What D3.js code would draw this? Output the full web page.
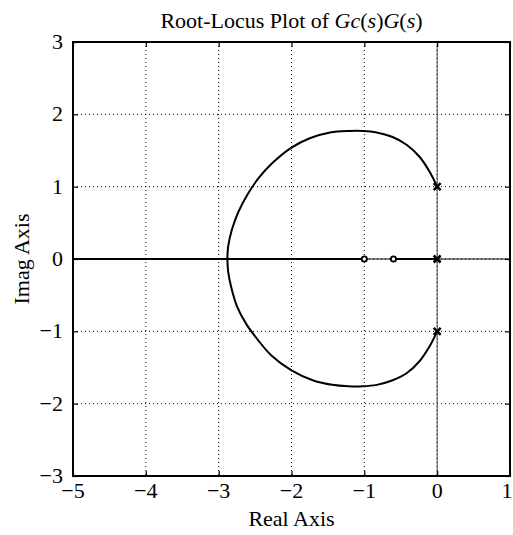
<!DOCTYPE html>
<html><head><meta charset="utf-8">
<script src="https://cdn.jsdelivr.net/npm/d3@7"></script>
<style>body{margin:0;background:#fff}</style>
</head><body>
<svg id="c" width="513" height="535"></svg>
<script>
const xTicks = [-5,-4,-3,-2,-1,0,1];
const yTicks = [-3,-2,-1,0,1,2,3];
// upper complex branch, from pole at +j to break-in point
const upperBranch = [[0,1],[-0.10,1.20],[-0.24,1.41],[-0.42,1.58],[-0.62,1.69],[-0.83,1.75],[-1.02,1.77],[-1.20,1.77],[-1.47,1.75],[-1.75,1.67],[-2.00,1.54],[-2.27,1.32],[-2.45,1.12],[-2.60,0.90],[-2.73,0.65],[-2.82,0.40],[-2.87,0.17],[-2.88,0]];
// lower complex branch, from break-in point to pole at -j
const lowerBranch = [[-2.88,0],[-2.87,-0.17],[-2.83,-0.38],[-2.75,-0.65],[-2.62,-0.90],[-2.46,-1.12],[-2.28,-1.33],[-2.00,-1.54],[-1.70,-1.68],[-1.44,-1.74],[-1.22,-1.76],[-1.02,-1.76],[-0.83,-1.74],[-0.62,-1.68],[-0.42,-1.58],[-0.24,-1.41],[-0.10,-1.20],[0,-1]];
const realBranches = [[[-5,0],[-1,0]], [[-0.6,0],[0,0]]];
const poles = [[0,1],[0,0],[0,-1]];
const zeros = [[-1,0],[-0.6,0]];

const svg = d3.select('#c');
const L=73, R=510, T=42, B=476;
const x = d3.scaleLinear().domain([-5,1]).range([L,R]);
const y = d3.scaleLinear().domain([-3,3]).range([B,T]);
const serif = "'Liberation Serif','Times New Roman',serif";
const FS = 22;

// grid
const g = svg.append('g');
xTicks.slice(1,-1).forEach(v=>g.append('line').attr('x1',x(v)).attr('x2',x(v)).attr('y1',T).attr('y2',B)
  .attr('stroke','#000').attr('stroke-width',1).attr('stroke-dasharray','1,3'));
yTicks.slice(1,-1).forEach(v=>g.append('line').attr('y1',y(v)).attr('y2',y(v)).attr('x1',L).attr('x2',R)
  .attr('stroke','#000').attr('stroke-width',1).attr('stroke-dasharray','1,3'));

// axes lines (real & imaginary)
svg.append('line').attr('x1',L).attr('x2',R).attr('y1',y(0)).attr('y2',y(0)).attr('stroke','#000').attr('stroke-width',1);
svg.append('line').attr('x1',x(0)).attr('x2',x(0)).attr('y1',T).attr('y2',B).attr('stroke','#444').attr('stroke-width',1);

// locus
const line = d3.line().x(d=>x(d[0])).y(d=>y(d[1])).curve(d3.curveCatmullRom);
[upperBranch, lowerBranch, ...realBranches].forEach(b=>
  svg.append('path').attr('d',line(b)).attr('fill','none').attr('stroke','#000').attr('stroke-width',2));

// zeros
zeros.forEach(d=>svg.append('circle').attr('cx',x(d[0])).attr('cy',y(d[1])).attr('r',2.6)
  .attr('fill','#fff').attr('stroke','#000').attr('stroke-width',1.8));
// poles
poles.forEach(d=>{
  const s=3.5;
  svg.append('path').attr('d',`M${x(d[0])-s},${y(d[1])-s}L${x(d[0])+s},${y(d[1])+s}M${x(d[0])-s},${y(d[1])+s}L${x(d[0])+s},${y(d[1])-s}`)
    .attr('stroke','#000').attr('stroke-width',2.5);
});

// frame with inward ticks on all sides
const ax = svg.append('g');
ax.append('g').attr('transform',`translate(0,${B})`).call(d3.axisBottom(x).tickValues(xTicks).tickSize(-5).tickFormat(''));
ax.append('g').attr('transform',`translate(0,${T})`).call(d3.axisTop(x).tickValues(xTicks).tickSize(-5).tickFormat(''));
ax.append('g').attr('transform',`translate(${L},0)`).call(d3.axisLeft(y).tickValues(yTicks).tickSize(-5).tickFormat(''));
ax.append('g').attr('transform',`translate(${R},0)`).call(d3.axisRight(y).tickValues(yTicks).tickSize(-5).tickFormat(''));
ax.selectAll('.domain').remove();
ax.selectAll('line').attr('stroke','#000').attr('stroke-width',1.2);
svg.append('rect').attr('x',L).attr('y',T).attr('width',R-L).attr('height',B-T)
  .attr('fill','none').attr('stroke','#000').attr('stroke-width',2);

const fmt = v => v<0 ? '\u2212'+Math.abs(v) : String(v);
// tick labels
xTicks.forEach(v=>svg.append('text').attr('x',Math.min(x(v),507)).attr('y',B+22).attr('text-anchor','middle')
  .attr('font-family',serif).attr('font-size',FS).text(fmt(v)));
yTicks.forEach(v=>svg.append('text').attr('x',L-10).attr('y',y(v)+7).attr('text-anchor','end')
  .attr('font-family',serif).attr('font-size',FS).text(fmt(v)));

// axis titles
svg.append('text').attr('x',(L+R)/2).attr('y',526).attr('text-anchor','middle')
  .attr('font-family',serif).attr('font-size',FS).text('Real Axis');
svg.append('text').attr('transform',`translate(29,${(T+B)/2}) rotate(-90)`).attr('text-anchor','middle')
  .attr('font-family',serif).attr('font-size',FS).text('Imag Axis');

// title
const t = svg.append('text').attr('x',(L+R)/2).attr('y',28).attr('text-anchor','middle')
  .attr('font-family',serif).attr('font-size',FS);
t.append('tspan').text('Root-Locus Plot of ');
t.append('tspan').attr('font-style','italic').text('Gc');
t.append('tspan').text('(');
t.append('tspan').attr('font-style','italic').text('s');
t.append('tspan').text(')');
t.append('tspan').attr('font-style','italic').text('G');
t.append('tspan').text('(');
t.append('tspan').attr('font-style','italic').text('s');
t.append('tspan').text(')');
</script>
</body></html>
